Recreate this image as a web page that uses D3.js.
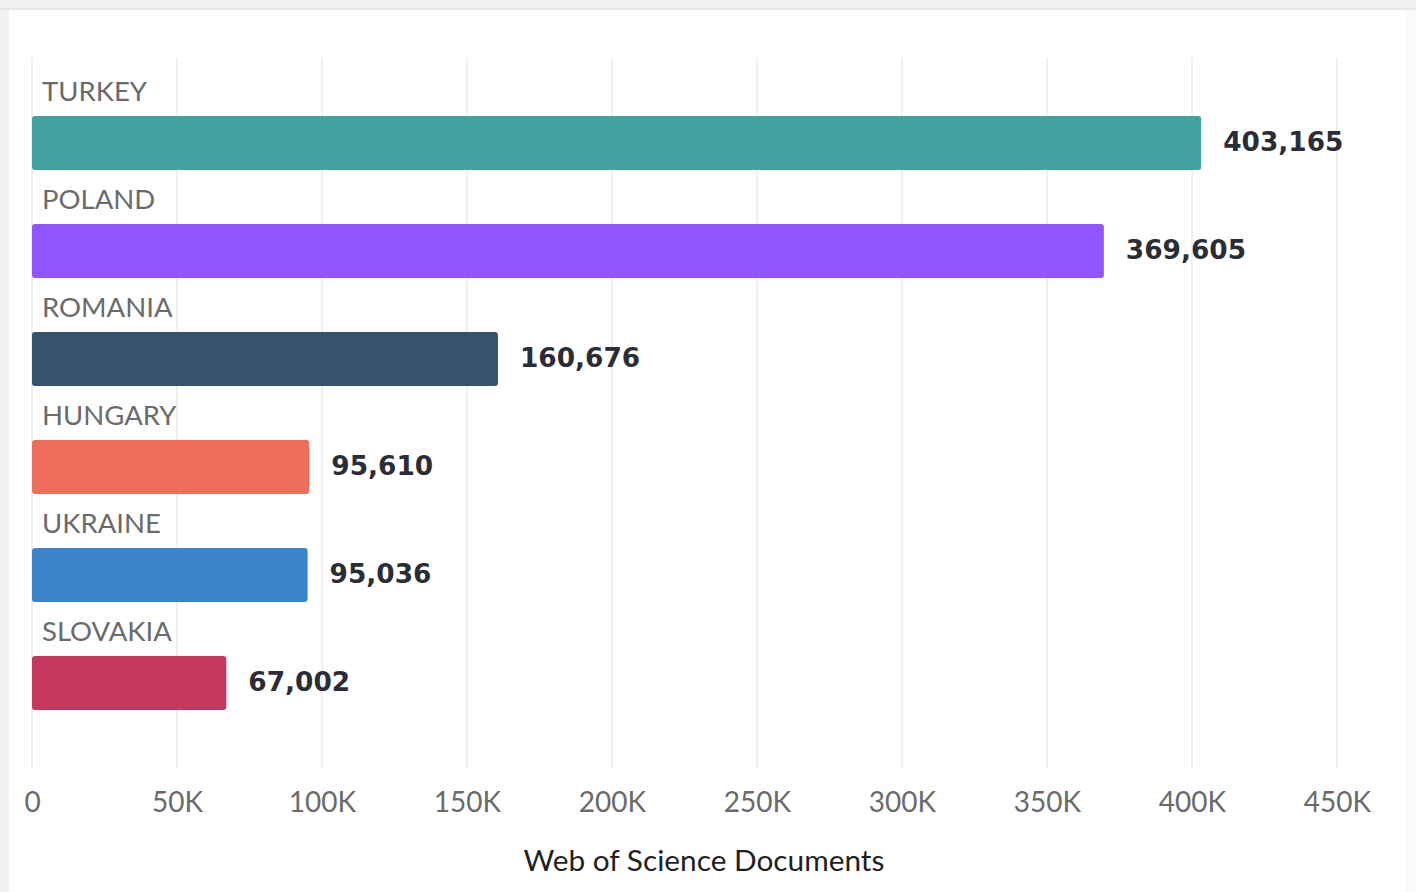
<!DOCTYPE html>
<html>
<head>
<meta charset="utf-8">
<script src="https://cdn.jsdelivr.net/npm/d3@7"></script>
<style>
  html, body { margin: 0; padding: 0; background: #f1f1f1; }
  svg { display: block; }
</style>
</head>
<body>
<svg id="chart" width="1416" height="892"></svg>
<script>
const countries = ["TURKEY", "POLAND", "ROMANIA", "HUNGARY", "UKRAINE", "SLOVAKIA"];
const documents = [403165, 369605, 160676, 95610, 95036, 67002];
const barColors = ["#43a19f", "#9155fd", "#35536f", "#ee6e59", "#3e84cc", "#c4385e"];
const tickValues = [0, 50000, 100000, 150000, 200000, 250000, 300000, 350000, 400000, 450000];
const tickLabels = ["0", "50K", "100K", "150K", "200K", "250K", "300K", "350K", "400K", "450K"];
const axisTitle = "Web of Science Documents";

const svg = d3.select("#chart");
const W = 1416, H = 892;

// card
svg.append("rect").attr("x", 0).attr("y", 0).attr("width", W).attr("height", H).attr("fill", "#f1f1f1");
svg.append("rect").attr("x", 0).attr("y", 8).attr("width", W).attr("height", 2).attr("fill", "#e6e6e6");
svg.append("rect").attr("x", 9).attr("y", 10).attr("width", 1396).attr("height", H - 10).attr("fill", "#ffffff");
svg.append("rect").attr("x", 1405).attr("y", 10).attr("width", 11).attr("height", H - 10).attr("fill", "#fafafa");

const x = d3.scaleLinear().domain([0, 450000]).range([32, 1337]);
const y = d3.scaleBand().domain(countries).range([62, 710]).paddingInner(0);

// gridlines
svg.append("g").selectAll("line").data(tickValues).join("line")
  .attr("x1", d => x(d)).attr("x2", d => x(d))
  .attr("y1", 58).attr("y2", 768)
  .attr("stroke", "#ebebeb").attr("stroke-width", 1.5);

// axis
const axis = d3.axisBottom(x).tickValues(tickValues)
  .tickFormat((d, i) => tickLabels[i]).tickSize(0).tickPadding(0);
const gAxis = svg.append("g").attr("transform", "translate(0,812)").call(axis);
gAxis.select(".domain").remove();
gAxis.selectAll("text")
  .attr("dy", 0).attr("y", 0)
  .attr("font-family", "Lato, sans-serif").attr("font-size", 28)
  .attr("fill", "#6a6a6a");

// axis title
svg.append("text").attr("x", 704).attr("y", 871)
  .attr("text-anchor", "middle")
  .attr("font-family", "Lato, sans-serif").attr("font-size", 29.8)
  .attr("fill", "#1f1f1f").text(axisTitle);

const data = countries.map((c, i) => ({ c, v: documents[i], col: barColors[i] }));

const g = svg.append("g");
// bars
g.selectAll("rect.bar").data(data).join("rect").attr("class", "bar")
  .attr("x", x(0))
  .attr("y", d => y(d.c) + y.bandwidth() / 2)
  .attr("width", d => x(d.v) - x(0))
  .attr("height", y.bandwidth() / 2)
  .attr("rx", 3).attr("ry", 3)
  .attr("fill", d => d.col);

// category labels
g.selectAll("text.cat").data(data).join("text").attr("class", "cat")
  .attr("x", 42)
  .attr("y", d => y(d.c) + 39)
  .attr("font-family", "Lato, sans-serif").attr("font-size", 27.5)
  .attr("textLength", null)
  .attr("fill", "#6b6b6b")
  .text(d => d.c);

// value labels
const fmt = d3.format(",");
g.selectAll("text.val").data(data).join("text").attr("class", "val")
  .attr("x", d => x(d.v) + 22)
  .attr("y", d => y(d.c) + y.bandwidth() * 0.75 + 8)
  .attr("font-family", "'DejaVu Sans', sans-serif").attr("font-weight", "bold").attr("font-size", 26.4)
  .attr("fill", "#2b2d36")
  .text(d => fmt(d.v));
</script>
</body>
</html>
